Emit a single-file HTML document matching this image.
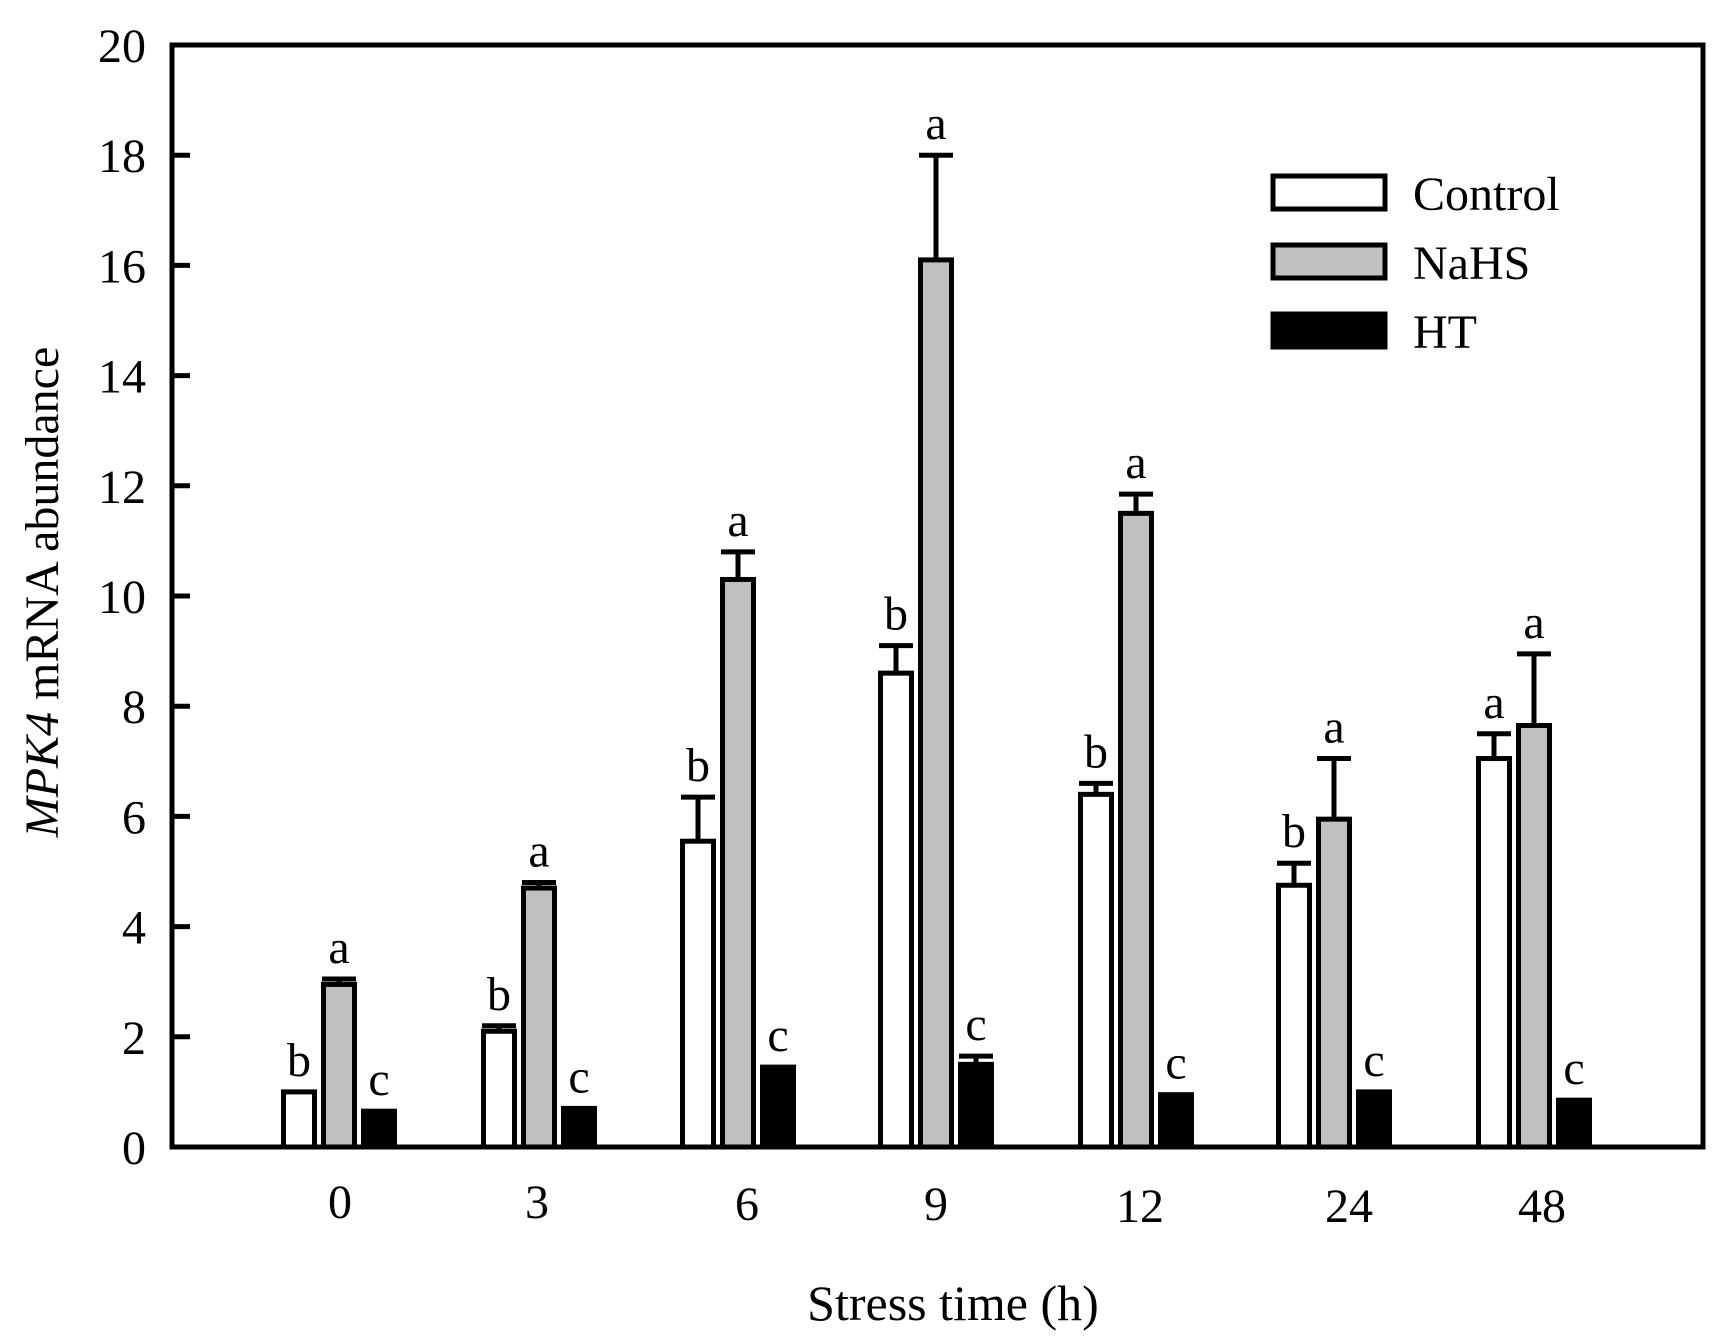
<!DOCTYPE html>
<html><head><meta charset="utf-8"><style>html,body{margin:0;padding:0;background:#fff}svg{display:block}</style></head>
<body>
<svg width="1717" height="1339" viewBox="0 0 1717 1339" xmlns="http://www.w3.org/2000/svg" font-family="Liberation Serif, serif">
<rect width="1717" height="1339" fill="#fff"/>
<g id="bars" stroke="#000" stroke-width="5"></g>
<g stroke="#000" stroke-width="5" fill="none">
<rect x="172" y="45" width="1531" height="1102"/>
</g>
<g id="ticks" stroke="#000" stroke-width="5"></g>
<g id="ylab" font-size="48" text-anchor="end"></g>
<g font-size="48" text-anchor="middle">
<text x="340" y="1218">0</text>
<text x="537" y="1218">3</text>
<text x="747" y="1220">6</text>
<text x="936" y="1220">9</text>
<text x="1140" y="1222">12</text>
<text x="1349" y="1222">24</text>
<text x="1542" y="1222">48</text>
<text x="953" y="1320" font-size="50">Stress time (h)</text>
</g>
<text transform="translate(58,592) rotate(-90)" font-size="48" text-anchor="middle"><tspan font-style="italic">MPK4</tspan> mRNA abundance</text>
<g stroke="#000" stroke-width="5">
<rect x="1273" y="176" width="112" height="33" fill="#fff"/>
<rect x="1273" y="245" width="112" height="33" fill="#c0c0c0"/>
<rect x="1273" y="314" width="112" height="33" fill="#000"/>
</g>
<g font-size="48">
<text x="1413" y="210">Control</text>
<text x="1413" y="279">NaHS</text>
<text x="1413" y="348">HT</text>
</g>
<g id="letters" font-size="48" text-anchor="middle"></g>
<script>
var ns="http://www.w3.org/2000/svg";
function el(p,t,a,txt){var e=document.createElementNS(ns,t);for(var k in a)e.setAttribute(k,a[k]);if(txt)e.textContent=txt;document.getElementById(p).appendChild(e);}
var y0=1147,u=55.1;function Y(v){return y0-v*u;}
for(var i=2;i<=18;i+=2){el('ticks','line',{x1:172,x2:190,y1:Y(i),y2:Y(i)});}
for(var i=0;i<=20;i+=2){el('ylab','text',{x:146,y:Y(i)+17},String(i));}
var centers=[339,539,738,936,1136,1334,1534];
var data=[
[[1.0,null,'b'],[2.95,3.05,'a'],[0.65,null,'c']],
[[2.1,2.2,'b'],[4.7,4.8,'a'],[0.7,null,'c']],
[[5.55,6.35,'b'],[10.3,10.8,'a'],[1.45,null,'c']],
[[8.6,9.1,'b'],[16.1,18.0,'a'],[1.5,1.65,'c']],
[[6.4,6.6,'b'],[11.5,11.85,'a'],[0.95,null,'c']],
[[4.75,5.15,'b'],[5.95,7.05,'a'],[1.0,null,'c']],
[[7.05,7.5,'a'],[7.65,8.95,'a'],[0.85,null,'c']]];
var fills=['#fff','#c0c0c0','#000'];
data.forEach(function(g,gi){g.forEach(function(b,bi){
 var cx=centers[gi]+(bi-1)*40;var top=Y(b[0]);
 el('bars','rect',{x:cx-15.5,y:top,width:31,height:y0-top,fill:fills[bi]});
 var ly=top;
 if(b[1]!==null){var ey=Y(b[1]);el('bars','line',{x1:cx,x2:cx,y1:top,y2:ey});el('bars','line',{x1:cx-17,x2:cx+17,y1:ey,y2:ey});ly=ey;}
 el('letters','text',{x:cx,y:ly-16},b[2]);
});});
</script>
</svg>
</body></html>
